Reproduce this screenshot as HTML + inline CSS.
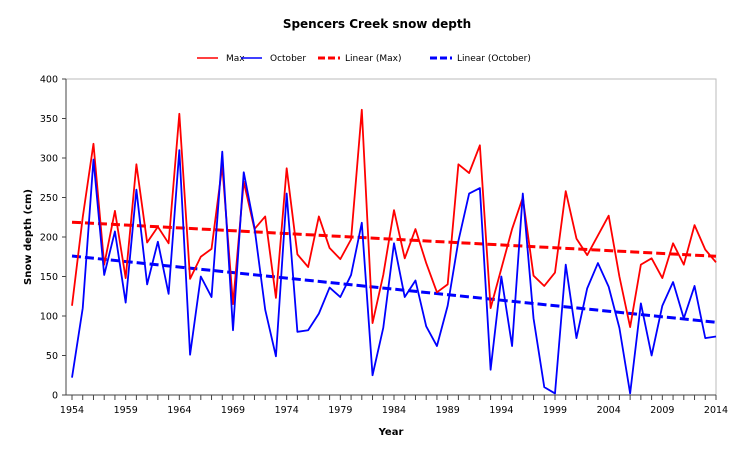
<!DOCTYPE html>
<html><head><meta charset="utf-8"><style>
body{margin:0;background:#fff;font-family:"DejaVu Sans","Liberation Sans",sans-serif}
svg text{font-family:"DejaVu Sans","Liberation Sans",sans-serif;fill:#000}
</style></head><body>
<svg id="chart" width="754" height="451" viewBox="0 0 754 451" xmlns="http://www.w3.org/2000/svg">
<text x="377" y="28" text-anchor="middle" font-size="12" font-weight="bold">Spencers Creek snow depth</text>
<g font-size="9">
<g><line x1="197" y1="58" x2="218" y2="58" stroke="#f00" stroke-width="1.5"/><text x="226" y="61">Max</text></g>
<g><line x1="241" y1="58" x2="262" y2="58" stroke="#00f" stroke-width="1.5"/><text x="270" y="61">October</text></g>
<g><line x1="318" y1="58" x2="340" y2="58" stroke="#f00" stroke-width="3" stroke-dasharray="7,3"/><text x="345" y="61">Linear (Max)</text></g>
<g><line x1="430" y1="58" x2="452" y2="58" stroke="#00f" stroke-width="3" stroke-dasharray="7,3"/><text x="457" y="61">Linear (October)</text></g>
</g>
<rect x="66" y="79" width="650" height="316" fill="none" stroke="#bbb" stroke-width="1"/>
<g id="axes"></g>
<g id="series"></g>
<text transform="translate(31,237) rotate(-90)" text-anchor="middle" font-size="10" font-weight="bold">Snow depth (cm)</text>
<text x="391" y="435" text-anchor="middle" font-size="10" font-weight="bold">Year</text>
</svg>
<script>
const years=[];for(let y=1954;y<=2014;y++)years.push(y);
const maxDepth=[113,225,318,165,233,148,292,193,213,192,356,147,175,185,290,115,270,210,226,123,287,178,162,226,186,172,197,361,91,152,234,173,210,167,130,140,292,281,316,110,160,210,250,151,138,155,258,198,177,202,227,150,86,165,173,148,192,165,215,184,168];
const octDepth=[22,110,298,152,207,117,260,140,194,128,310,51,150,124,308,82,282,212,108,49,255,80,82,103,136,124,152,218,25,85,192,124,145,87,62,113,195,255,262,32,150,62,255,97,10,2,165,72,135,167,137,85,2,116,50,113,143,97,138,72,74];
const yTicks=[0,50,100,150,200,250,300,350,400];
const xTickLabels=[1954,1959,1964,1969,1974,1979,1984,1989,1994,1999,2004,2009,2014];
const NS="http://www.w3.org/2000/svg";
const X0=72,X1=716,Y0=395,Y1=79;
function xs(y){return X0+(y-1954)*(X1-X0)/60;}
function ys(v){return Y0-v*(Y0-Y1)/400;}
function mk(t,a,p){const e=document.createElementNS(NS,t);for(const k in a)e.setAttribute(k,a[k]);p.appendChild(e);return e;}
const ax=document.getElementById('axes'),se=document.getElementById('series');
mk('line',{x1:66,y1:79,x2:66,y2:395,stroke:'#444'},ax);
mk('line',{x1:66,y1:395,x2:716,y2:395,stroke:'#444'},ax);
yTicks.forEach(v=>{
 const l=mk('line',{x1:62,y1:ys(v),x2:66,y2:ys(v),stroke:'#444'},ax);
 
 
 const t=mk('text',{x:58,y:ys(v)+3.5,'text-anchor':'end','font-size':'9.5'},ax);
 t.textContent=v;
 
 
});
years.forEach(y=>{
 const l=mk('line',{x1:xs(y),y1:395,x2:xs(y),y2:400,stroke:'#444'},ax);
 
 
});
xTickLabels.forEach(y=>{
 const t=mk('text',{x:xs(y),y:413,'text-anchor':'middle','font-size':'9.5'},ax);
 t.textContent=y;
 
 
});
function fit(vals){const n=vals.length;let sx=0,sy=0,sxx=0,sxy=0;years.forEach((x,i)=>{sx+=x;sy+=vals[i];sxx+=x*x;sxy+=x*vals[i];});const b=(n*sxy-sx*sy)/(n*sxx-sx*sx);return [b,(sy-b*sx)/n];}
function series(vals,col,name){
 const p=mk('polyline',{points:years.map((y,i)=>xs(y)+','+ys(vals[i])).join(' '),fill:'none',stroke:col,'stroke-width':1.8,'stroke-linejoin':'round'},se);
 
 
}
function trend(vals,col,name){
 const [b,a]=fit(vals);
 const l=mk('line',{x1:xs(1954),y1:ys(a+b*1954),x2:xs(2014),y2:ys(a+b*2014),stroke:col,'stroke-width':3,'stroke-dasharray':'9,4'},se);
 
 
}
trend(maxDepth,'#f00','max');
trend(octDepth,'#00f','october');
series(maxDepth,'#f00','max');
series(octDepth,'#00f','october');
</script>
</body></html>
